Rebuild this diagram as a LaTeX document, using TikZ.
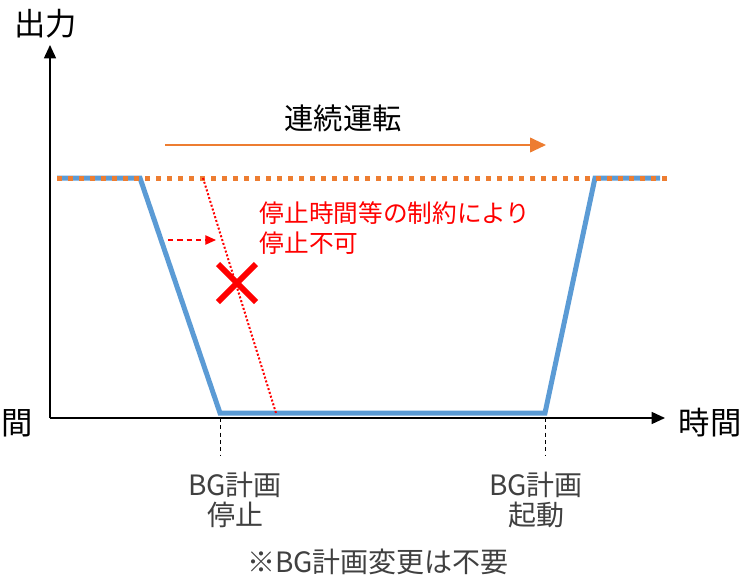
\documentclass[tikz,border=0pt]{standalone}
\usepackage{fontspec}
\setmainfont{Noto Sans CJK JP}
\usetikzlibrary{arrows.meta, calc}
\definecolor{myblue}{RGB}{91,155,213}
\definecolor{myorange}{RGB}{237,125,49}
\definecolor{myred}{RGB}{255,0,0}
\definecolor{mygray}{RGB}{64,64,64}
\tikzset{
  axis/.style={line width=1.1pt, -{Triangle[length=10pt,width=9pt]}},
  outline/.style={myblue, line width=3.75pt},
  ratedline/.style={myorange, line width=3.75pt, dash pattern=on 3.75pt off 4.5pt},
  redtrace/.style={myred, line width=1.5pt, dash pattern=on 1.5pt off 1.5pt},
  redshift/.style={myred, line width=0.9pt, dash pattern=on 4pt off 3pt, -{Triangle[length=8pt,width=7pt]}},
  guide/.style={black, line width=0.7pt, dash pattern=on 3pt off 2.5pt},
  biglabel/.style={font=\fontsize{23.5}{26}\selectfont},
  ticklabel/.style={font=\fontsize{21}{22.5}\selectfont, text=mygray, align=center},
  redlabel/.style={font=\fontsize{18.5}{22.5}\selectfont, text=myred, align=left, anchor=north west}
}
\begin{document}
\begin{tikzpicture}[x=0.75pt, y=-0.75pt]
  \useasboundingbox (0,0) rectangle (744,579);

  % Axes
  \coordinate (origin) at (50,418);
  \coordinate (ytip) at (50,45);
  \coordinate (xtip) at (665,418);
  \draw[axis] (origin) -- (ytip);
  \draw[axis] (origin) -- (xtip);
  \node[biglabel] (ylab) at (46,24) {出力};
  \node[biglabel] (xlab) at (710,423) {時間};
  \node[biglabel] (xlabcut) at (17,423) {間};

  % Output profile
  \coordinate (p0) at (57,178);
  \coordinate (p1) at (140,178);
  \coordinate (p2) at (220,413);
  \coordinate (p3) at (545,413);
  \coordinate (p4) at (595,178);
  \coordinate (p5) at (660,178);
  \draw[outline] (p0) -- (p1) -- (p2) -- (p3) -- (p4) -- (p5);

  % Rated output
  \coordinate (r0) at (57,178);
  \coordinate (r1) at (668,178);
  \draw[ratedline] (r0) -- (r1);

  % Continuous operation
  \coordinate (c0) at (165,145);
  \coordinate (c1) at (546,145);
  \draw[myorange, line width=1.4pt, -{Triangle[length=12pt,width=11pt]}] (c0) -- (c1);
  \node[biglabel, font=\fontsize{22}{26}\selectfont] (cont) at (343,118) {連続運転};

  % Shifted stop (not possible)
  \coordinate (s0) at (203,178);
  \coordinate (s1) at (276,413);
  \draw[redtrace] (s0) -- (s1);
  \coordinate (a0) at (168,240);
  \coordinate (a1) at (216,240);
  \draw[redshift] (a0) -- (a1);
  \coordinate (xc) at (237,283);
  \draw[myred, line width=4.5pt] ($(xc)+(-19,-19)$) -- ($(xc)+(19,19)$);
  \draw[myred, line width=4.5pt] ($(xc)+(19,-19)$) -- ($(xc)+(-19,19)$);
  \node[redlabel] (note) at (255,197) {停止時間等の制約により\\停止不可};

  % BG plan marks
  \coordinate (g0) at (220,418);
  \coordinate (g1) at (220,456);
  \coordinate (h0) at (545,418);
  \coordinate (h1) at (545,456);
  \draw[guide] (g0) -- (g1);
  \draw[guide] (h0) -- (h1);
  \node[ticklabel] (stop) at (235,500) {BG計画\\停止};
  \node[ticklabel] (start) at (536,500) {BG計画\\起動};
  \node[ticklabel] (remark) at (378,562) {※BG計画変更は不要};
\end{tikzpicture}
\end{document}
